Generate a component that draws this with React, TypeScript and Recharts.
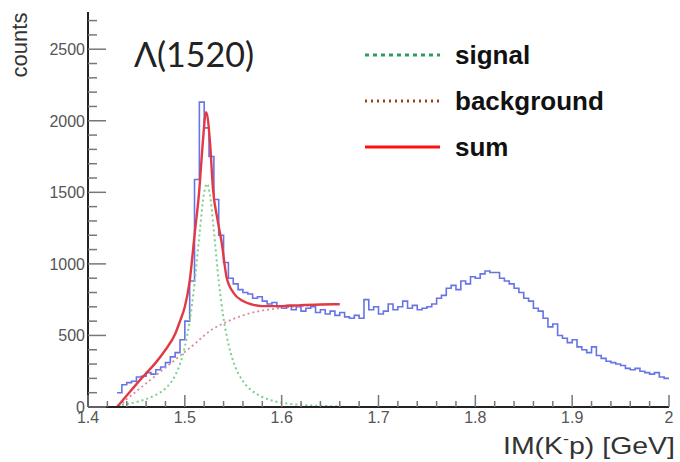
import React from 'react';
import { Line, LineChart, XAxis, YAxis } from 'recharts';

// histogram: counts per 5 MeV bin, first bin starts at 1.430 GeV
const histCounts = [
  100, 155, 170, 180, 210, 215, 240, 230, 260, 280, 310, 350, 380, 470, 600, 880,
  1590, 2130, 1950, 1750, 1450, 1200, 1010, 900, 860, 820, 800, 790, 760, 770, 740,
  720, 730, 700, 690, 710, 680, 700, 670, 690, 700, 660, 680, 650, 670, 640, 660, 630,
  620, 640, 620, 750, 680, 700, 650, 670, 720, 680, 700, 740, 690, 710, 680, 690, 700,
  720, 760, 780, 830, 850, 820, 880, 860, 910, 900, 930, 950, 940, 940, 900, 880, 860,
  830, 800, 760, 740, 690, 670, 620, 560, 580, 500, 480, 450, 470, 420, 400, 380, 420,
  360, 340, 320, 310, 300, 290, 270, 260, 270, 250, 240, 230, 240, 210, 200,
];

const signalMass = [
  1.43, 1.44, 1.45, 1.46, 1.47, 1.48, 1.49, 1.495, 1.5, 1.505, 1.51, 1.515, 1.52, 1.523,
  1.526, 1.53, 1.535, 1.54, 1.545, 1.55, 1.56, 1.57, 1.58, 1.59, 1.6, 1.62, 1.64, 1.66,
];
const signalVal = [
  10, 20, 35, 55, 85, 130, 220, 300, 420, 600, 860, 1200, 1500, 1560, 1480, 1230, 880,
  620, 440, 320, 180, 110, 70, 45, 30, 15, 8, 5,
];

const bgMass = [
  1.432, 1.44, 1.45, 1.46, 1.47, 1.48, 1.49, 1.5, 1.51, 1.52, 1.53, 1.54, 1.55, 1.56,
  1.57, 1.58, 1.59, 1.6, 1.61, 1.62, 1.63, 1.64, 1.65, 1.66,
];
const bgVal = [
  0, 55, 110, 165, 220, 275, 330, 385, 440, 500, 550, 585, 615, 640, 660, 674, 684, 692,
  700, 705, 710, 714, 717, 720,
];

const sumMass = [
  1.43, 1.44, 1.45, 1.46, 1.47, 1.48, 1.49, 1.495, 1.5, 1.505, 1.51, 1.515, 1.518, 1.522,
  1.526, 1.529, 1.534, 1.538, 1.543, 1.55, 1.56, 1.57, 1.58, 1.6, 1.62, 1.64, 1.66,
];
const sumVal = [
  0, 80, 160, 235, 310, 400, 510, 600, 700, 880, 1200, 1520, 1800, 2060, 1850, 1530, 1300,
  1150, 910, 800, 740, 715, 705, 705, 712, 716, 718,
];

const xTicks = [
  1.4, 1.42, 1.44, 1.46, 1.48, 1.5, 1.52, 1.54, 1.56, 1.58, 1.6, 1.62, 1.64, 1.66, 1.68,
  1.7, 1.72, 1.74, 1.76, 1.78, 1.8, 1.82, 1.84, 1.86, 1.88, 1.9, 1.92, 1.94, 1.96, 1.98, 2,
];
const yTicks = [
  0, 100, 200, 300, 400, 500, 600, 700, 800, 900, 1000, 1100, 1200, 1300, 1400, 1500, 1600,
  1700, 1800, 1900, 2000, 2100, 2200, 2300, 2400, 2500, 2600, 2700,
];

const histData = histCounts.map((n, i) => ({ m: +(1.43 + i * 0.005).toFixed(3), n }));
histData.push({ m: 2.0, n: histCounts[histCounts.length - 1] });
const signalData = signalMass.map((m, i) => ({ m, v: signalVal[i] }));
const bgData = bgMass.map((m, i) => ({ m, v: bgVal[i] }));
const sumData = sumMass.map((m, i) => ({ m, v: sumVal[i] }));

const FONT = 'Arial, "Liberation Sans", sans-serif';

const XTick = ({ x, y, payload }: any) => {
  const v = payload.value as number;
  const major = Math.abs(v * 10 - Math.round(v * 10)) < 1e-6;
  return (
    <g>
      <line x1={x} x2={x} y1={y} y2={y - (major ? 12 : 6)} stroke="#777" strokeWidth={1.5} />
      {major && (
        <text x={x} y={y + 16} textAnchor="middle" fontSize={16} fill="#555" fontFamily={FONT}>
          {v === 2 ? '2' : v.toFixed(1)}
        </text>
      )}
    </g>
  );
};

const YTick = ({ x, y, payload }: any) => {
  const v = payload.value as number;
  const major = v % 500 === 0;
  return (
    <g>
      <line x1={x} x2={x + (major ? 18 : 9)} y1={y} y2={y} stroke="#777" strokeWidth={1.5} />
      {major && (
        <text x={x - 3} y={y + 6} textAnchor="end" fontSize={16} fill="#555" fontFamily={FONT}>
          {v}
        </text>
      )}
    </g>
  );
};

const legendItems = [
  { label: 'signal', color: '#2e9e5e', dash: '4 4', y: 55 },
  { label: 'background', color: '#a0401a', dash: '2 4', y: 101 },
  { label: 'sum', color: '#ff1010', dash: undefined, y: 147 },
];

export default function App() {
  return (
    <div style={{ position: 'absolute', left: 0, top: 0, width: 680, height: 462, background: '#fff' }}>
      <LineChart
        width={680}
        height={462}
        margin={{ top: 12, right: 11, left: 0, bottom: 25 }}
      >
        <XAxis
          dataKey="m"
          type="number"
          domain={[1.4, 2]}
          ticks={xTicks}
          interval={0}
          allowDataOverflow
          height={30}
          tickSize={0}
          tickMargin={0}
          tickLine={false}
          tick={<XTick />}
          axisLine={{ stroke: '#222', strokeWidth: 2 }}
        />
        <XAxis
          xAxisId="top"
          orientation="top"
          type="number"
          domain={[1.4, 2]}
          height={0}
          tick={false}
          tickLine={false}
          axisLine={{ stroke: '#aaa', strokeWidth: 1 }}
        />
        <YAxis
          type="number"
          domain={[0, 2760]}
          ticks={yTicks}
          interval={0}
          allowDataOverflow
          width={88}
          tickSize={0}
          tickMargin={0}
          tickLine={false}
          tick={<YTick />}
          axisLine={{ stroke: '#222', strokeWidth: 2 }}
        />
        <YAxis
          yAxisId="right"
          orientation="right"
          type="number"
          domain={[0, 2760]}
          width={0}
          tick={false}
          tickLine={false}
          axisLine={{ stroke: '#222', strokeWidth: 1.5 }}
        />
        <Line
          data={histData}
          dataKey="n"
          type="stepAfter"
          stroke="#6674e6"
          strokeWidth={1.6}
          dot={false}
          isAnimationActive={false}
        />
        <Line
          data={bgData}
          dataKey="v"
          type="monotone"
          stroke="#dc8a9c"
          strokeWidth={1.8}
          strokeDasharray="2 3"
          dot={false}
          isAnimationActive={false}
        />
        <Line
          data={signalData}
          dataKey="v"
          type="monotone"
          stroke="#7ccf8c"
          strokeWidth={2}
          strokeDasharray="2 3"
          dot={false}
          isAnimationActive={false}
        />
        <Line
          data={sumData}
          dataKey="v"
          type="monotone"
          stroke="#e23a44"
          strokeWidth={2.4}
          dot={false}
          isAnimationActive={false}
        />
      </LineChart>

      <svg
        width={680}
        height={462}
        style={{ position: 'absolute', left: 0, top: 0, pointerEvents: 'none' }}
      >
        <text x={134} y={67} fontSize={34} fill="#222" fontFamily='Lato, "Open Sans", sans-serif'>
          Λ(1520)
        </text>
        {legendItems.map((it) => (
          <g key={it.label}>
            <line
              x1={365}
              x2={440}
              y1={it.y}
              y2={it.y}
              stroke={it.color}
              strokeWidth={3}
              strokeDasharray={it.dash}
            />
            <text x={455} y={it.y + 9} fontSize={26} fontWeight="bold" fill="#111" fontFamily={FONT}>
              {it.label}
            </text>
          </g>
        ))}
        <text
          transform="translate(27, 45) rotate(-90)"
          textAnchor="middle"
          fontSize={22}
          fill="#333"
          fontFamily={FONT}
        >
          counts
        </text>
        <text
          x={503}
          y={454}
          fontSize={24}
          fill="#333"
          fontFamily={FONT}
          textLength={172}
          lengthAdjust="spacingAndGlyphs"
        >
          IM(K<tspan dy={-10} fontSize={15}>-</tspan>
          <tspan dy={10}>p) [GeV]</tspan>
        </text>
      </svg>
    </div>
  );
}
